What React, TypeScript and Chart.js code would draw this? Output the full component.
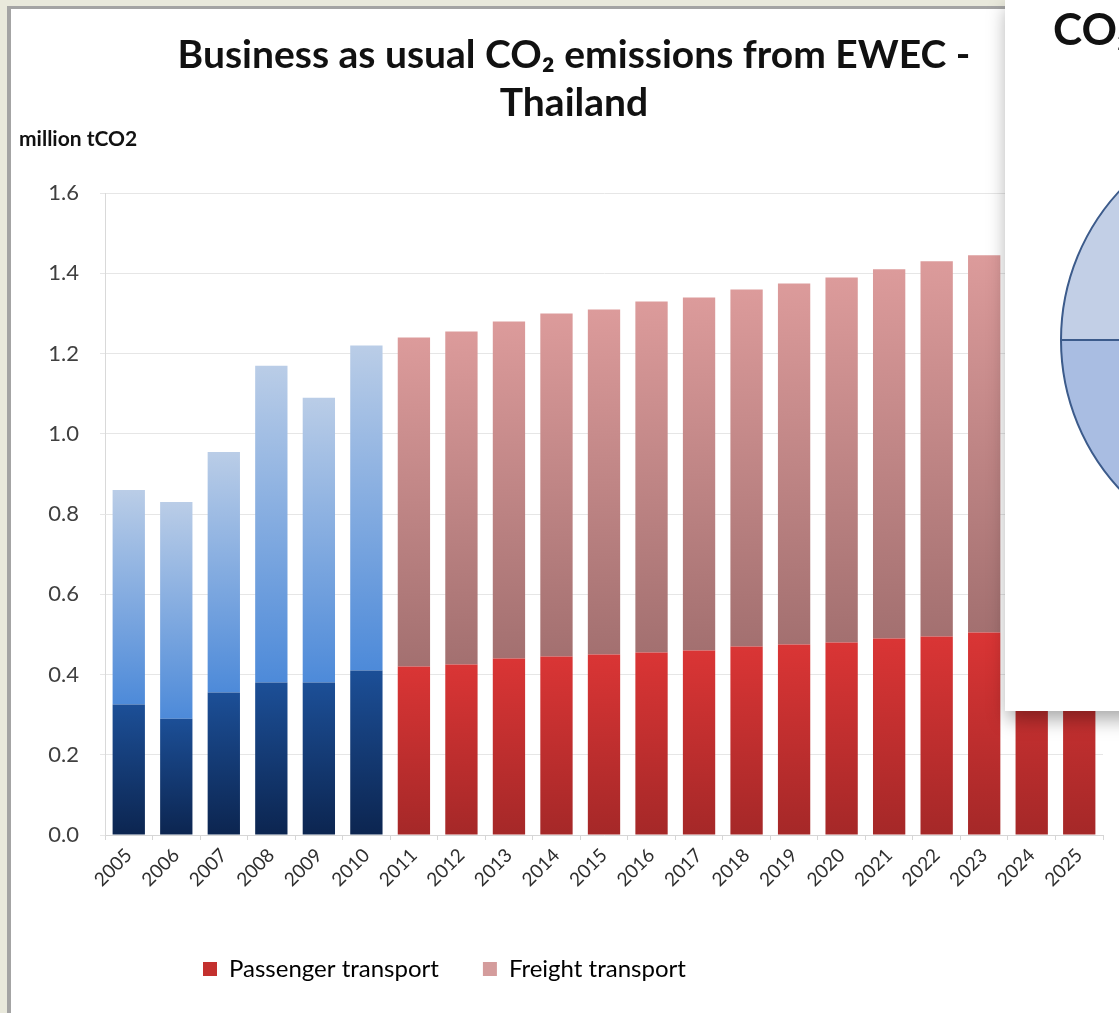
import React, { useEffect, useRef } from "react";
import { Chart, registerables } from "chart.js";

Chart.register(...registerables);

// ---- data ----
const years = [
  "2005", "2006", "2007", "2008", "2009", "2010", "2011", "2012", "2013", "2014", "2015",
  "2016", "2017", "2018", "2019", "2020", "2021", "2022", "2023", "2024", "2025",
];
const passenger = [
  0.325, 0.29, 0.355, 0.38, 0.38, 0.41, 0.42, 0.425, 0.44, 0.445, 0.45,
  0.455, 0.46, 0.47, 0.475, 0.48, 0.49, 0.495, 0.505, 0.51, 0.52,
];
const freight = [
  0.535, 0.54, 0.6, 0.79, 0.71, 0.81, 0.82, 0.83, 0.84, 0.855, 0.86,
  0.875, 0.88, 0.89, 0.9, 0.91, 0.92, 0.935, 0.94, 0.95, 0.96,
];
const projectionStartYear = 2011;
const yMin = 0;
const yMax = 1.6;
const yStep = 0.2;

const titleLines = ["Business as usual CO\u2082 emissions from EWEC -", "Thailand"];
const unitLabel = "million tCO2";
const seriesNames = ["Passenger transport", "Freight transport"];

// overlapping second slide (partially visible pie)
const pieLabels = ["Share A", "Share B"];
const pieValues = [75, 25];
const pieTitle = "CO\u2082 emissions";

// ---- styles ----
const bluePass = ["#0c2550", "#1c4f97"];
const blueFreight = ["#4d8ad9", "#bacde7"];
const redPass = ["#a52828", "#da3535"];
const redFreight = ["#a37070", "#dc9b9b"];
const FONT = "Lato, 'Open Sans', sans-serif";

function isHistoric(i: number) {
  return Number(years[i]) < projectionStartYear;
}

function makeFill(kind: "p" | "f") {
  return (ctx: any) => {
    const chart = ctx.chart;
    const area = chart.chartArea;
    const i = ctx.dataIndex;
    const stops =
      kind === "p"
        ? isHistoric(i) ? bluePass : redPass
        : isHistoric(i) ? blueFreight : redFreight;
    if (!area || i === undefined || !chart.scales.y) return stops[1];
    const y = chart.scales.y;
    const base = kind === "p" ? 0 : passenger[i];
    const top = kind === "p" ? passenger[i] : passenger[i] + freight[i];
    const g = chart.ctx.createLinearGradient(0, y.getPixelForValue(base), 0, y.getPixelForValue(top));
    g.addColorStop(0, stops[0]);
    g.addColorStop(1, stops[1]);
    return g;
  };
}

const legendShift = {
  id: "legendShift",
  afterLayout(chart: any) {
    const lg = chart.legend;
    if (lg) {
      lg.left += 140;
    }
  },
};

export default function App() {
  const barRef = useRef<HTMLCanvasElement | null>(null);
  const pieRef = useRef<HTMLCanvasElement | null>(null);

  useEffect(() => {
    let bar: Chart | null = null;
    let pie: Chart | null = null;
    let cancelled = false;

    const build = () => {
      if (cancelled || !barRef.current || !pieRef.current) return;
      bar = new Chart(barRef.current, {
        type: "bar",
        data: {
          labels: years,
          datasets: [
            {
              label: seriesNames[0],
              data: passenger,
              backgroundColor: makeFill("p"),
              borderWidth: 0,
              barPercentage: 0.68,
              categoryPercentage: 1,
            },
            {
              label: seriesNames[1],
              data: freight,
              backgroundColor: makeFill("f"),
              borderWidth: 0,
              barPercentage: 0.68,
              categoryPercentage: 1,
            },
          ],
        },
        options: {
          responsive: false,
          animation: false,
          devicePixelRatio: 1,
          layout: { padding: { left: 8, right: 10, top: 10, bottom: 10 } },
          scales: {
            x: {
              stacked: true,
              offset: true,
              grid: {
                display: true,
                offset: true,
                drawOnChartArea: false,
                drawTicks: true,
                tickLength: 5,
                color: "#d6d6d6",
              },
              border: { display: true, color: "#d6d6d6" },
              ticks: {
                autoSkip: false,
                minRotation: 45,
                maxRotation: 45,
                padding: 4,
                color: "#2e2e2e",
                font: { family: FONT, size: 19 },
              },
              afterFit: (s: any) => {
                s.height = 78;
              },
            },
            y: {
              stacked: true,
              min: yMin,
              max: yMax,
              grid: { color: "#e6e6e6", tickLength: 5, drawTicks: true },
              border: { display: true, color: "#d9d9d9" },
              ticks: {
                stepSize: yStep,
                padding: 21,
                color: "#404040",
                font: { family: FONT, size: 22 },
                callback: (v: any) => Number(v).toFixed(1),
              },
              afterFit: (s: any) => {
                s.width = 86;
              },
            },
            yRight: {
              type: "linear",
              position: "right",
              display: true,
              grid: { display: false },
              border: { display: false },
              ticks: { display: false },
              afterFit: (s: any) => {
                s.width = 26;
              },
            },
          },
          plugins: {
            title: {
              display: true,
              text: titleLines,
              color: "#111111",
              font: { family: FONT, size: 39, weight: "bold", lineHeight: 1.23 },
              padding: { top: 12, bottom: 0 },
            },
            subtitle: {
              display: true,
              text: unitLabel,
              align: "start",
              color: "#111111",
              font: { family: FONT, size: 21, weight: "bold", lineHeight: 1.2 },
              padding: { top: 0, bottom: 41 },
            },
            legend: {
              display: true,
              position: "bottom",
              align: "start",
              labels: {
                boxWidth: 14,
                boxHeight: 14,
                padding: 44,
                color: "#3a3a3a",
                font: { family: FONT, size: 24 },
                generateLabels: () => [
                  { text: seriesNames[0], fillStyle: "#c3302e", strokeStyle: "#c3302e", lineWidth: 0, datasetIndex: 0, hidden: false },
                  { text: seriesNames[1], fillStyle: "#d49c9c", strokeStyle: "#d49c9c", lineWidth: 0, datasetIndex: 1, hidden: false },
                ],
              },
            },
            tooltip: { enabled: false },
          },
        },
        plugins: [legendShift],
      });

      pie = new Chart(pieRef.current, {
        type: "pie",
        data: {
          labels: pieLabels,
          datasets: [
            {
              data: pieValues,
              backgroundColor: ["#a9bde2", "#c2cfe6"],
              borderColor: "#3c5b8b",
              borderWidth: 2,
            },
          ],
        },
        options: {
          responsive: false,
          animation: false,
          devicePixelRatio: 1,
          layout: { padding: 10 },
          plugins: { legend: { display: false }, tooltip: { enabled: false } },
        },
      });
    };

    const fontsApi: any = (document as any).fonts;
    if (fontsApi && fontsApi.load) {
      Promise.all([
        fontsApi.load("24px Lato"),
        fontsApi.load("bold 34px Lato"),
      ])
        .catch(() => null)
        .then(build);
    } else {
      build();
    }

    return () => {
      cancelled = true;
      if (bar) bar.destroy();
      if (pie) pie.destroy();
    };
  }, []);

  return (
    <div
      style={{
        position: "fixed",
        left: 0,
        top: 0,
        width: 1119,
        height: 1013,
        overflow: "hidden",
        background: "#e9e9dc",
      }}
    >
      <div
        style={{
          position: "absolute",
          left: 7,
          top: 6,
          width: 1200,
          height: 1100,
          background: "#ffffff",
          borderLeft: "4px solid #a4a4a4",
          borderTop: "3px solid #a4a4a4",
        }}
      >
        <canvas ref={barRef} width={1128} height={992} style={{ display: "block" }} />
      </div>
      <div
        style={{
          position: "absolute",
          left: 1005,
          top: 0,
          width: 140,
          height: 711,
          background: "#ffffff",
          boxShadow: "2px 8px 18px rgba(0,0,0,0.35)",
          overflow: "hidden",
        }}
      >
        <div
          style={{
            position: "absolute",
            left: 48,
            top: 5,
            font: "bold 44px " + FONT,
            lineHeight: "46px",
            whiteSpace: "nowrap",
            color: "#111111",
          }}
        >
          {pieTitle}
        </div>
        <canvas
          ref={pieRef}
          width={460}
          height={460}
          style={{ position: "absolute", left: 45, top: 110 }}
        />
      </div>
    </div>
  );
}
